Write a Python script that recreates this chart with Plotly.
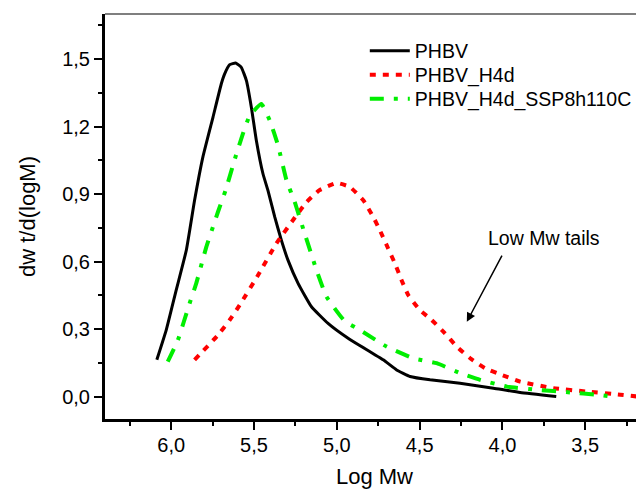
import plotly.graph_objects as go

# PHBV (black solid)
phbv_x = [6.087, 6.03, 5.97, 5.909, 5.859, 5.809, 5.748, 5.698, 5.678, 5.647, 5.611, 5.577, 5.546,
          5.516, 5.486, 5.446, 5.416, 5.375, 5.335, 5.295, 5.234, 5.153, 5.053, 4.932, 4.72, 4.639,
          4.558, 4.437, 4.256, 4.054, 3.893, 3.675]
phbv_y = [0.163, 0.296, 0.473, 0.650, 0.872, 1.064, 1.241, 1.389, 1.433, 1.475, 1.482, 1.463, 1.404,
          1.285, 1.138, 0.990, 0.916, 0.798, 0.695, 0.606, 0.503, 0.399, 0.325, 0.259, 0.163, 0.118,
          0.089, 0.074, 0.059, 0.037, 0.018, 0.0]

# PHBV_H4d (red dotted)
h4d_x = [5.859, 5.718, 5.647, 5.587, 5.476, 5.365, 5.244, 5.183, 5.107, 5.002, 4.921, 4.84, 4.78,
         4.74, 4.69, 4.649, 4.609, 4.569, 4.498, 4.427, 4.347, 4.276, 4.195, 4.105, 4.004, 3.893,
         3.692, 3.49, 3.288, 3.187]
h4d_y = [0.163, 0.273, 0.34, 0.406, 0.539, 0.68, 0.805, 0.864, 0.916, 0.949, 0.931, 0.872, 0.798,
         0.739, 0.658, 0.591, 0.517, 0.451, 0.384, 0.34, 0.281, 0.222, 0.17, 0.126, 0.096, 0.066,
         0.037, 0.022, 0.008, 0.0]

# PHBV_H4d_SSP8h110C (green dash-dot)
ssp_x = [6.021, 5.96, 5.889, 5.849, 5.788, 5.748, 5.718, 5.672, 5.611, 5.567, 5.526, 5.456, 5.405,
         5.355, 5.304, 5.254, 5.194, 5.123, 5.062, 4.952, 4.861, 4.7, 4.538, 4.397, 4.256, 4.135,
         3.973, 3.792, 3.591, 3.429, 3.348]
ssp_y = [0.155, 0.251, 0.414, 0.503, 0.665, 0.754, 0.820, 0.916, 1.067, 1.168, 1.249, 1.30, 1.227,
         1.116, 0.961, 0.864, 0.724, 0.562, 0.443, 0.335, 0.296, 0.222, 0.17, 0.148, 0.104, 0.074,
         0.044, 0.030, 0.018, 0.008, 0.0]

x_ticks = [6.0, 5.5, 5.0, 4.5, 4.0, 3.5]
y_ticks = [0.0, 0.3, 0.6, 0.9, 1.2, 1.5]

FONT = "Liberation Sans, Arial, sans-serif"

fig = go.Figure()
fig.add_trace(go.Scatter(x=phbv_x, y=phbv_y, mode="lines", name="PHBV", legend="legend",
                         line=dict(color="black", width=3, shape="spline", smoothing=0.4)))
fig.add_trace(go.Scatter(x=h4d_x, y=h4d_y, mode="lines", name="PHBV_H4d", legend="legend2",
                         line=dict(color="#ff0000", width=4, dash="6px,7px", shape="spline", smoothing=0.4)))
fig.add_trace(go.Scatter(x=ssp_x, y=ssp_y, mode="lines", name="PHBV_H4d_SSP8h110C", legend="legend3",
                         line=dict(color="#00ee00", width=4, dash="14px,10px,4px,10px", shape="spline", smoothing=0.4)))

fig.add_annotation(x=4.215, y=0.332, ax=3.998, ay=0.633, xref="x", yref="y", axref="x", ayref="y",
                   text="", showarrow=True, arrowhead=2, arrowsize=1.2, arrowwidth=1.5, arrowcolor="black")
fig.add_annotation(x=3.75, y=0.705, xref="x", yref="y", text="Low Mw tails", showarrow=False,
                   font=dict(size=19.5, color="black", family=FONT))

fig.add_shape(type="line", xref="paper", yref="paper", x0=0, x1=1, y0=1, y1=1,
              line=dict(color="#555555", width=1.5))

leg_common = dict(x=0.482, xanchor="left", yanchor="middle", bgcolor="rgba(0,0,0,0)",
                  font=dict(size=19.5), itemwidth=40)

fig.update_layout(
    width=636, height=481,
    margin=dict(l=97, r=0, t=6, b=70, autoexpand=False),
    paper_bgcolor="white", plot_bgcolor="white",
    separators=", ",
    font=dict(family=FONT, size=20, color="black"),
    showlegend=True,
    legend=dict(y=0.9086, **leg_common),
    legend2=dict(y=0.849, **leg_common),
    legend3=dict(y=0.790, **leg_common),
    xaxis=dict(range=[6.40, 3.145], tickvals=x_ticks, tickformat=".1f", automargin=False,
               showline=True, linecolor="black", linewidth=3, ticks="outside", ticklen=8,
               tickwidth=2, tickcolor="black", showgrid=False, zeroline=False, ticklabelstandoff=-2,
               minor=dict(dtick=0.25, ticks="outside", ticklen=4, tickwidth=2, tickcolor="black", showgrid=False),
               title=dict(text="Log Mw", font=dict(size=22), standoff=37)),
    yaxis=dict(range=[-0.1, 1.70], tickvals=y_ticks, tickformat=".1f", automargin=False,
               showline=True, linecolor="black", linewidth=3, ticks="outside", ticklen=8,
               tickwidth=2, tickcolor="black", showgrid=False, zeroline=False,
               minor=dict(dtick=0.15, tick0=0, ticks="outside", ticklen=4, tickwidth=2, tickcolor="black", showgrid=False),
               title=dict(text="dw t/d(logM)", font=dict(size=22), standoff=21)),
)

fig.write_html("out.html")
